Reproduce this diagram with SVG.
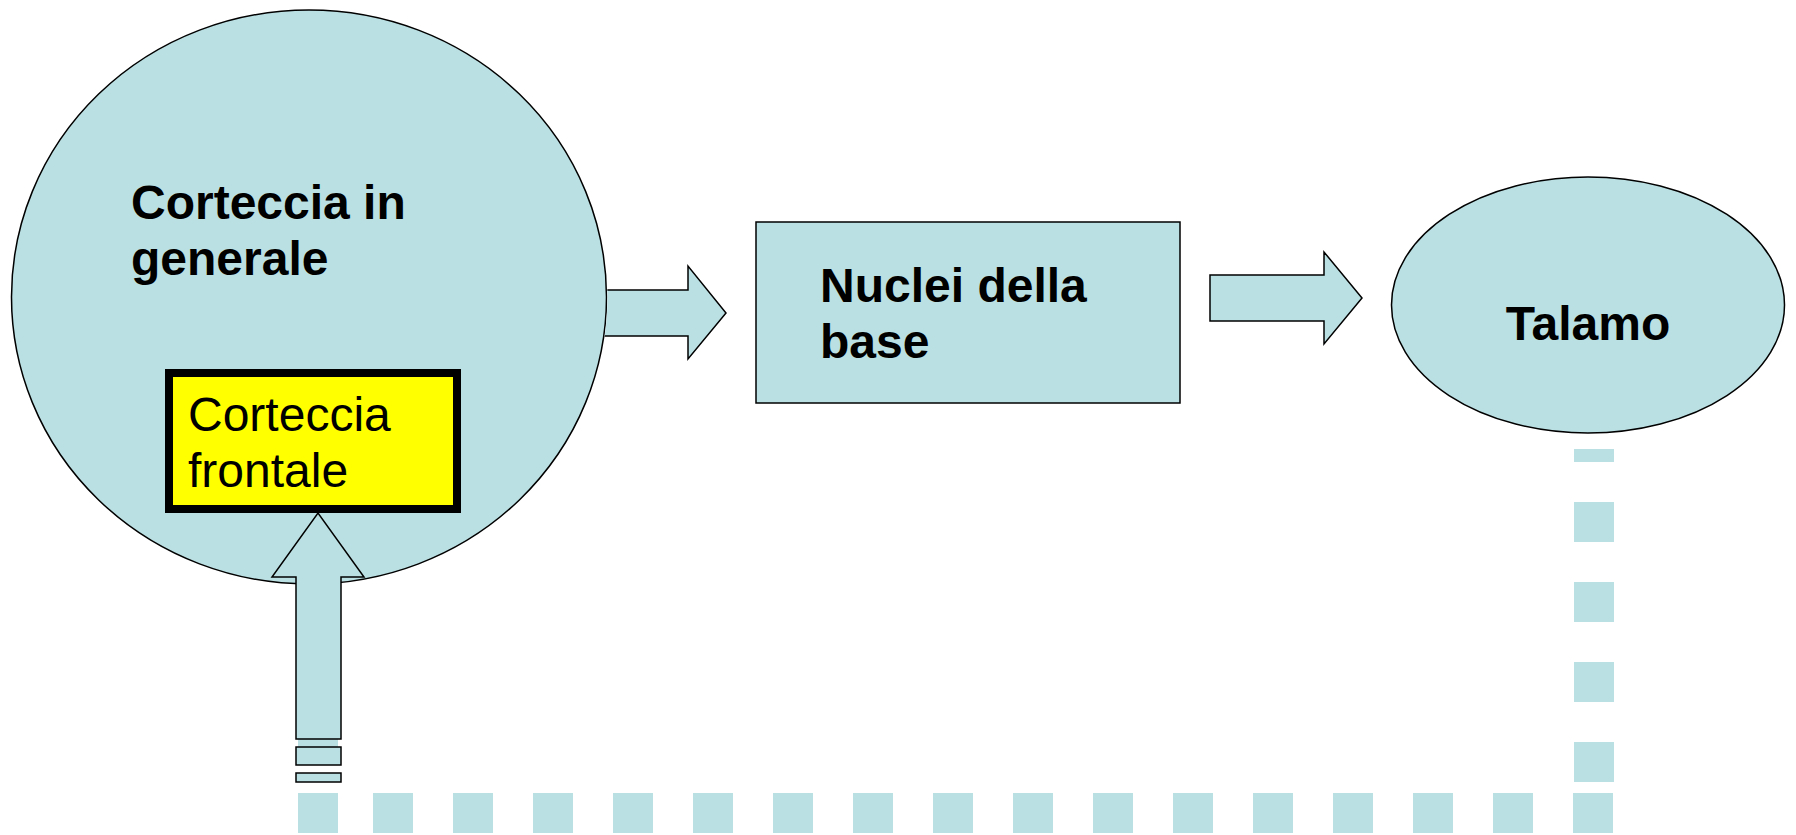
<svg xmlns="http://www.w3.org/2000/svg" width="1796" height="835" viewBox="0 0 1796 835">
  <style>
    .shape { fill: #BBE0E3; stroke: #000; stroke-width: 1.5; }
    .arrow { fill: #BBE0E3; stroke: #000; stroke-width: 1.5; stroke-linejoin: miter; }
    .dash { fill: none; stroke: #BBE0E3; stroke-width: 40; stroke-dasharray: 40 40; }
    .label { font-family: "Liberation Sans", Arial, sans-serif; font-size: 48px; fill: #000; }
    .bold { font-weight: bold; }
  </style>
  <defs>
    <!-- everything outside the large cortex ellipse -->
    <clipPath id="outsideCortex">
      <path clip-rule="evenodd" d="M0,0 H1796 V835 H0 Z M10.5,297 A298.5,288 0 1 0 607.5,297 A298.5,288 0 1 0 10.5,297 Z"/>
    </clipPath>
  </defs>

  <rect width="1796" height="835" fill="#fff"/>

  <!-- nodes -->
  <g id="corteccia-generale">
    <ellipse class="shape" cx="309" cy="297" rx="297.5" ry="287"/>
    <text class="label bold" x="131" y="219">Corteccia in</text>
    <text class="label bold" x="131" y="275">generale</text>
  </g>

  <g id="corteccia-frontale">
    <rect x="169" y="373" width="288" height="136" fill="#FFFF00" stroke="#000" stroke-width="8"/>
    <text class="label" x="188" y="431">Corteccia</text>
    <text class="label" x="188" y="487">frontale</text>
  </g>

  <g id="nuclei-base">
    <rect class="shape" x="756" y="222" width="424" height="181"/>
    <text class="label bold" x="820" y="302">Nuclei della</text>
    <text class="label bold" x="820" y="358">base</text>
  </g>

  <g id="talamo">
    <ellipse class="shape" cx="1588" cy="305" rx="196.5" ry="128"/>
    <text class="label bold" x="1588" y="340" text-anchor="middle">Talamo</text>
  </g>

  <!-- connectors -->
  <g id="connectors">
    <!-- dotted return path: talamo -> down -> left -> up to frontal cortex -->
    <path class="dash" d="M1594,782 V449"/>
    <path class="dash" d="M1613,813 H373"/>
    <path class="dash" d="M318,833 V713"/>

    <!-- cortex -> nuclei della base -->
    <path class="arrow" clip-path="url(#outsideCortex)" d="M590,290 H688 V266 L726,313 L688,359 V336 H590 Z"/>
    <!-- nuclei della base -> talamo -->
    <path class="arrow" d="M1210,275 H1324 V252 L1362,298 L1324,344 V321 H1210 Z"/>
    <!-- striped up arrow into frontal cortex -->
    <path class="arrow" d="M296,739 V577 H272 L318,513 L364,577 H341 V739 Z"/>
    <rect class="arrow" x="296" y="747" width="45" height="18"/>
    <rect class="arrow" x="296" y="773" width="45" height="9"/>
  </g>
</svg>
